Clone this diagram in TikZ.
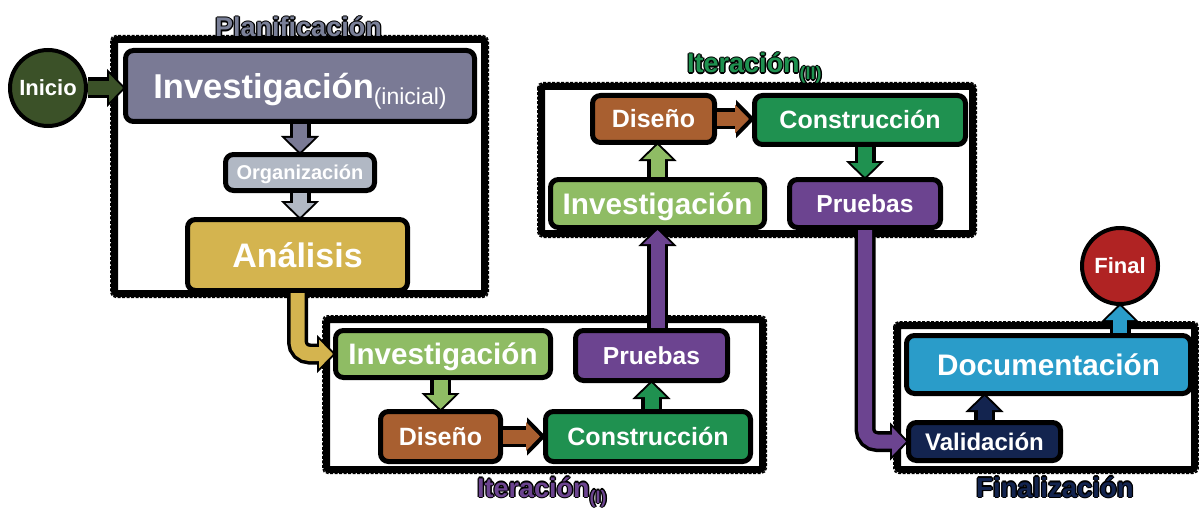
\documentclass[tikz,border=0pt]{standalone}
\usepackage{fontspec}
\setmainfont{Liberation Sans}
\usetikzlibrary{arrows.meta}

\definecolor{cInicio}{HTML}{3B5128}
\definecolor{cSlate}{HTML}{7A7A95}
\definecolor{cOrg}{HTML}{B1B8C4}
\definecolor{cGold}{HTML}{D4B44F}
\definecolor{cLG}{HTML}{8FBC64}
\definecolor{cPurple}{HTML}{6C4490}
\definecolor{cBrown}{HTML}{A85F30}
\definecolor{cGreen}{HTML}{1F9150}
\definecolor{cBlue}{HTML}{2A9CC9}
\definecolor{cNavy}{HTML}{13244F}
\definecolor{cRed}{HTML}{B02323}
\definecolor{cPlan}{HTML}{7A8098}

% coloured text with a thin black outline
\newcommand\halotext[2]{%
  \begingroup
  \def\halocopy##1##2{\rlap{\hspace*{##1}\raisebox{##2}{\color{black}#2}}}%
  \halocopy{1.3pt}{0pt}\halocopy{-1.3pt}{0pt}\halocopy{0pt}{1.3pt}\halocopy{0pt}{-1.3pt}%
  \halocopy{.9pt}{.9pt}\halocopy{-.9pt}{.9pt}\halocopy{.9pt}{-.9pt}\halocopy{-.9pt}{-.9pt}%
  {\color{#1}#2}%
  \endgroup}

\begin{document}
\begin{tikzpicture}[x=1pt,y=-1pt,
  box/.style={draw=black, line width=5pt, rounded corners=8pt, text=white,
    inner sep=0pt, align=center},
  fs/.style={font=\bfseries\fontsize{#1}{#1}\selectfont,
    text height={0.716*#1pt}, text depth=0pt},
  disc/.style={circle, draw=black, line width=4pt, text=white,
    minimum size=76pt, inner sep=0pt},
  frameband/.style={draw=black, line width=7pt, rounded corners=3pt},
  frameedge/.style={draw=black, line width=1.5pt, dash pattern=on 3pt off 1.5pt, rounded corners=5pt},
  lbl/.style={inner sep=0pt, anchor=base west},
  flow/.style={line width=14pt, draw=#1, -{Triangle[width=28pt,length=14pt]},
    preaction={draw=black, line width=21pt,
      -{Triangle[width=37pt,length=19pt]}, shorten >=-3pt}},
]
\useasboundingbox[fill=white] (0,0) rectangle (1199,508);

% phase frames: a solid band with a dashed outer rim
\draw[frameband] (114.5,39.5) rectangle (484.5,293.5);
\draw[frameedge] (110.75,35.75) rectangle (488.25,297.25);
\draw[frameband] (326.5,319.5) rectangle (762.5,469.5);
\draw[frameedge] (322.75,315.75) rectangle (766.25,473.25);
\draw[frameband] (541.5,86.5) rectangle (972.5,233.5);
\draw[frameedge] (537.75,82.75) rectangle (976.25,237.25);
\draw[frameband] (897.5,325.5) rectangle (1194.5,469.5);
\draw[frameedge] (893.75,321.75) rectangle (1198.25,473.25);

% phase titles
\node[lbl, font=\bfseries\fontsize{27}{27}\selectfont] (tPlan) at (215,37)
  {\halotext{cPlan}{Planificación}};
\node[lbl, font=\bfseries\fontsize{27}{27}\selectfont] (tIterA) at (477,497)
  {\halotext{cPurple}{Iteración\raisebox{-6pt}{\fontsize{18}{18}\selectfont(I)}}};
\node[lbl, font=\bfseries\fontsize{27}{27}\selectfont] (tIterB) at (687,73)
  {\halotext{cGreen}{Iteración\raisebox{-7pt}{\fontsize{18}{18}\selectfont(II)}}};
\node[lbl, font=\bfseries\fontsize{27.5}{27.5}\selectfont] (tFin) at (976,497)
  {\halotext{cNavy}{Finalización}};

% start and end
\node[disc, fill=cInicio, fs=22] (inicio) at (48,88) {Inicio};
\node[disc, fill=cRed, fs=22] (final) at (1120,266) {Final};

% planning
\node[box, fill=cSlate, fs=34.5, minimum width=349pt, minimum height=71pt] (invP) at (300,86)
  {Investigación\raisebox{-6pt}{\mdseries\fontsize{23}{23}\selectfont(inicial)}};
\node[box, fill=cOrg, fs=20, minimum width=149pt, minimum height=36pt] (org) at (300,172.5) {Organización};
\node[box, fill=cGold, fs=34, minimum width=220pt, minimum height=71pt] (ana) at (297.5,255) {Análisis};

% first iteration
\node[box, fill=cLG, fs=29.6, minimum width=215pt, minimum height=47pt] (invA) at (443,354) {Investigación};
\node[box, fill=cPurple, fs=24.6, minimum width=152pt, minimum height=50pt] (pruA) at (651.5,355.5) {Pruebas};
\node[box, fill=cBrown, fs=25, minimum width=120pt, minimum height=50pt] (disA) at (440.5,436.5) {Diseño};
\node[box, fill=cGreen, fs=25, minimum width=205pt, minimum height=50pt] (conA) at (648,436.5) {Construcción};

% second iteration
\node[box, fill=cBrown, fs=25, minimum width=122pt, minimum height=47pt] (disB) at (653.5,119) {Diseño};
\node[box, fill=cGreen, fs=25, minimum width=211pt, minimum height=49pt] (conB) at (860,120) {Construcción};
\node[box, fill=cLG, fs=29.7, minimum width=214pt, minimum height=48pt] (invB) at (657.5,203.5) {Investigación};
\node[box, fill=cPurple, fs=24.6, minimum width=151pt, minimum height=48pt] (pruB) at (865,203.5) {Pruebas};

% closing
\node[box, fill=cBlue, fs=29.7, minimum width=284pt, minimum height=58pt] (doc) at (1048.5,364.5) {Documentación};
\node[box, fill=cNavy, fs=24, minimum width=152pt, minimum height=38pt] (val) at (984.5,441.5) {Validación};

% flow arrows
\draw[flow=cInicio] (inicio.east) -- (invP.west |- inicio.east);
\draw[flow=cSlate] (invP.south) -- (org.north);
\draw[flow=cOrg] (org.south) -- (org.south |- ana.north);
\draw[flow=cGold, rounded corners=12pt] (ana.south) |- (invA.west);
\draw[flow=cLG] (disA.north |- invA.south) -- (disA.north);
\draw[flow=cBrown, shorten >=3pt] (disA.east) -- (conA.west);
\draw[flow=cGreen] (pruA.south |- conA.north) -- (pruA.south);
\draw[flow=cPurple] (invB.south |- pruA.north) -- (invB.south);
\draw[flow=cLG] (invB.north) -- (invB.north |- disB.south);
\draw[flow=cBrown, shorten >=3pt] (disB.east) -- (disB.east -| conB.west);
\draw[flow=cGreen] (pruB.north |- conB.south) -- (pruB.north);
\draw[flow=cPurple, rounded corners=12pt] (pruB.south) |- (val.west);
\draw[flow=cNavy] (val.north) -- (val.north |- doc.south);
\draw[flow=cBlue] (final.south |- doc.north) -- (final.south);
\end{tikzpicture}
\end{document}
